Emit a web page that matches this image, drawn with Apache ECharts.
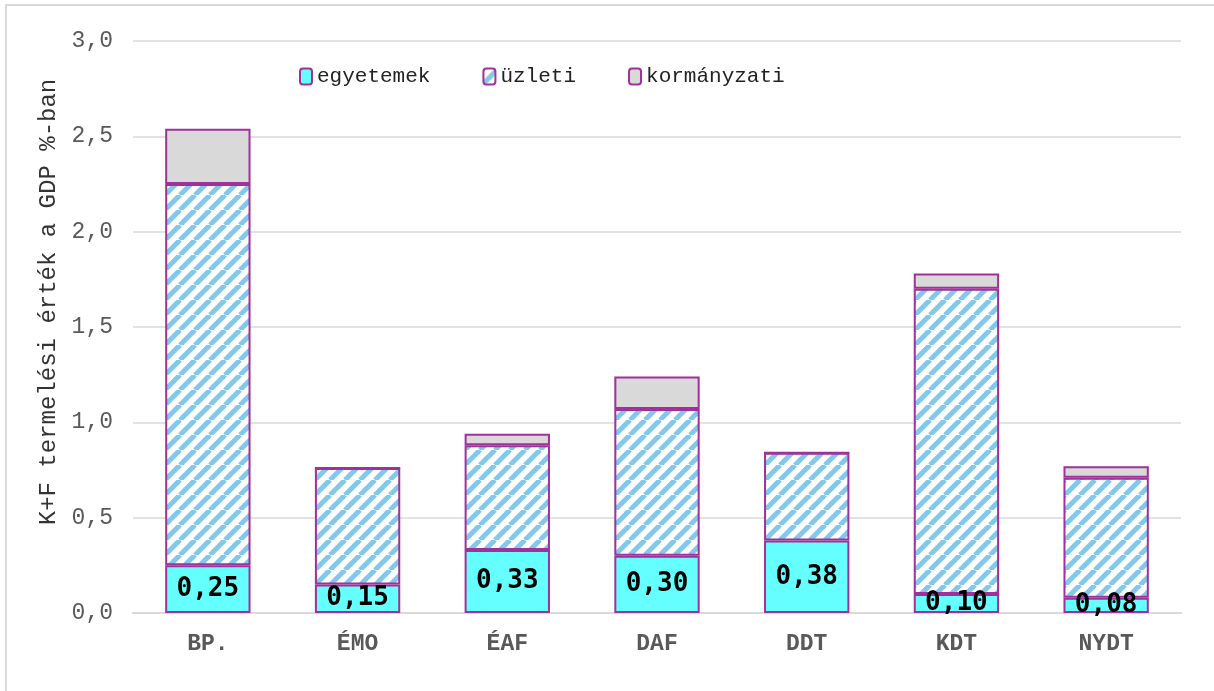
<!DOCTYPE html>
<html>
<head>
<meta charset="utf-8">
<script src="https://cdn.jsdelivr.net/npm/echarts@6/dist/echarts.min.js"></script>
<style>
  html, body { margin: 0; padding: 0; background: #fff; }
  #chart { width: 1214px; height: 691px; }
</style>
</head>
<body>
<div id="chart"></div>
<script>
// regions and K+F values (% of GDP)
var categories = ['BP.', 'ÉMO', 'ÉAF', 'DAF', 'DDT', 'KDT', 'NYDT'];
var egyetemek = [0.25, 0.15, 0.33, 0.30, 0.38, 0.10, 0.08];
var uzleti = [2.00, 0.61, 0.55, 0.77, 0.46, 1.60, 0.63];
var kormanyzati = [0.29, 0.00, 0.06, 0.17, 0.00, 0.08, 0.06];
var seriesNames = ['egyetemek', 'üzleti', 'kormányzati'];

var monoFont = '"Courier New", "Liberation Mono", monospace';
var borderPurple = '#a0309a';

// diagonal hatch for the business sector
function makeHatch() {
    var size = 15;
    var c = document.createElement('canvas');
    c.width = size;
    c.height = size;
    var ctx = c.getContext('2d');
    ctx.fillStyle = '#ffffff';
    ctx.fillRect(0, 0, size, size);
    ctx.strokeStyle = '#82c8ea';
    ctx.lineWidth = 5;
    for (var k = -1; k <= 1; k++) {
        ctx.beginPath();
        ctx.moveTo(k * size, size);
        ctx.lineTo(k * size + size, 0);
        ctx.stroke();
    }
    return c;
}

var myChart = echarts.init(document.getElementById('chart'));
var option = {
    animation: false,
    graphic: [{
        type: 'rect',
        shape: { x: 6, y: 5, width: 1230, height: 720 },
        style: { fill: 'none', stroke: '#d9d9d9', lineWidth: 2 },
        silent: true
    }],
    legend: {
        data: seriesNames,
        left: 294,
        top: 61,
        itemWidth: 12,
        itemHeight: 16,
        itemGap: 52,
        textStyle: { fontFamily: monoFont, fontSize: 21, color: '#222' }
    },
    grid: { left: 133, right: 33, top: 41, bottom: 78 },
    xAxis: {
        type: 'category',
        data: categories,
        axisLine: { lineStyle: { color: '#d9d9d9', width: 2 } },
        axisTick: { show: false },
        axisLabel: {
            margin: 20,
            fontFamily: monoFont,
            fontWeight: 'bold',
            fontSize: 23,
            color: '#595959'
        }
    },
    yAxis: {
        type: 'value',
        min: 0,
        max: 3,
        interval: 0.5,
        name: 'K+F termelési érték a GDP %-ban',
        nameLocation: 'middle',
        nameGap: 54,
        nameTextStyle: {
            fontFamily: monoFont,
            fontSize: 24,
            color: '#333',
            padding: [0, 0, 18, 50]
        },
        axisLine: { show: false },
        axisTick: { show: false },
        splitLine: { lineStyle: { color: '#d9d9d9', width: 1.5 } },
        axisLabel: {
            margin: 20,
            fontFamily: monoFont,
            fontSize: 23,
            color: '#595959',
            formatter: function (v) { return v.toFixed(1).replace('.', ','); }
        }
    },
    series: [
        {
            name: 'egyetemek',
            type: 'bar',
            stack: 'kf',
            barWidth: '57%',
            data: egyetemek,
            itemStyle: { color: '#66ffff', borderColor: borderPurple, borderWidth: 2 },
            label: {
                show: true,
                position: 'inside',
                fontFamily: '"DejaVu Sans Mono", monospace',
                fontWeight: 'bold',
                fontSize: 26,
                color: '#000',
                formatter: function (p) { return p.value.toFixed(2).replace('.', ','); }
            }
        },
        {
            name: 'üzleti',
            type: 'bar',
            stack: 'kf',
            data: uzleti,
            itemStyle: {
                color: { image: makeHatch(), repeat: 'repeat' },
                borderColor: borderPurple,
                borderWidth: 2
            }
        },
        {
            name: 'kormányzati',
            type: 'bar',
            stack: 'kf',
            data: kormanyzati,
            itemStyle: { color: '#d9d9d9', borderColor: borderPurple, borderWidth: 2 }
        }
    ]
};
myChart.setOption(option);
</script>
</body>
</html>
